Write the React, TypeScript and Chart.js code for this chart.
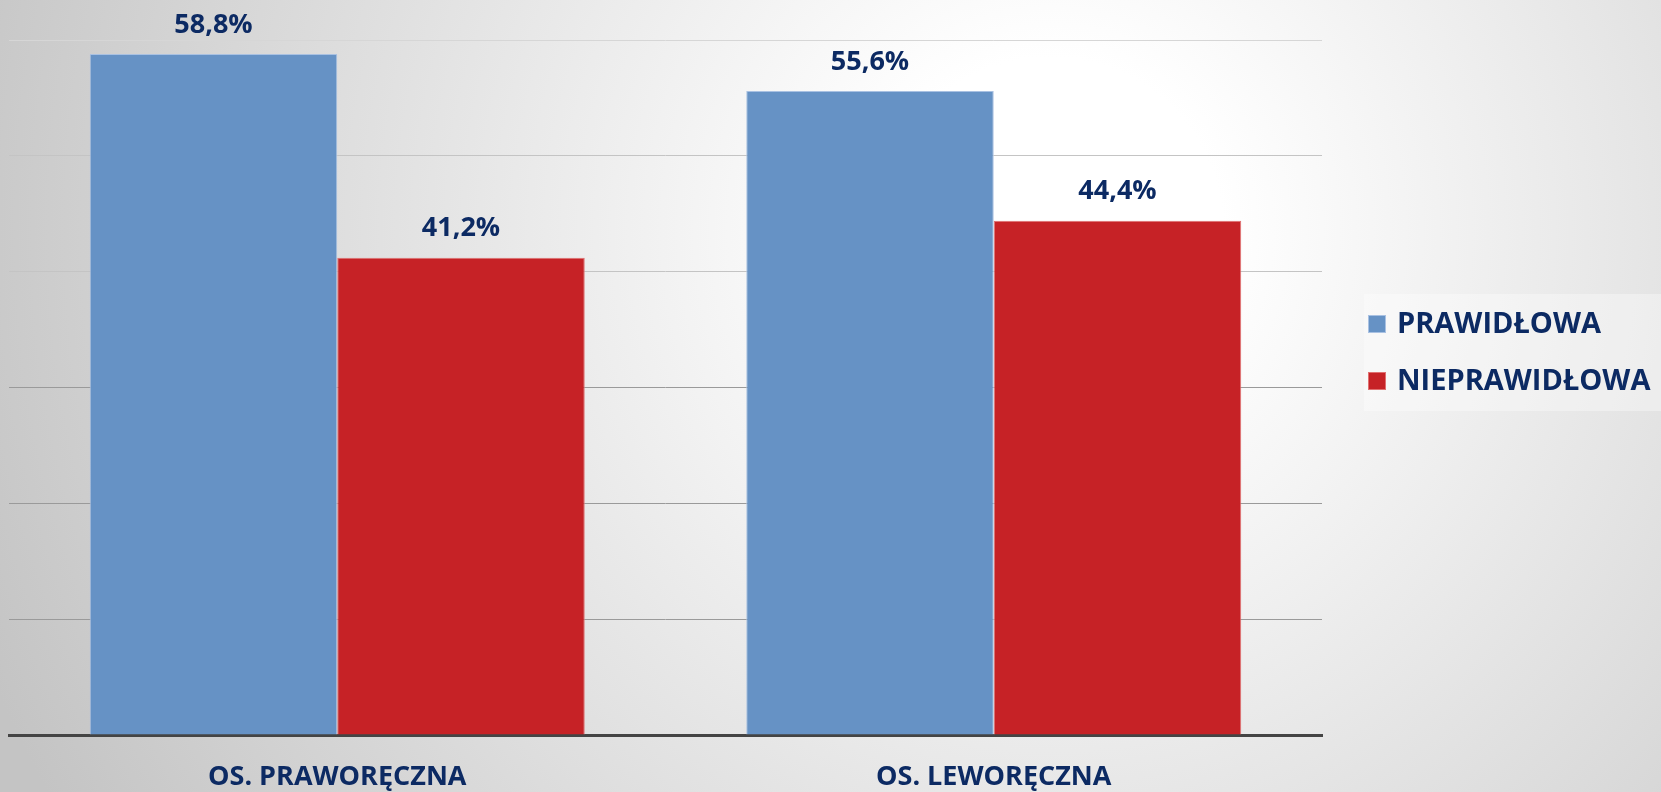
import React, { useEffect, useRef } from "react";
import { Chart, registerables } from "chart.js";

Chart.register(...registerables);

const categories = ["OS. PRAWORĘCZNA", "OS. LEWORĘCZNA"];
const seriesNames = ["PRAWIDŁOWA", "NIEPRAWIDŁOWA"];
const prawidlowa = [58.8, 55.6];
const nieprawidlowa = [41.2, 44.4];
const yTicks = [0, 10, 20, 30, 40, 50, 60];

const NAVY = "#0c2a63";
const BLUE = "#6692c5";
const RED = "#c62226";
const FONT = "'Open Sans', Lato, sans-serif";

const fmt = (v: number) => v.toFixed(1).replace(".", ",") + "%";

const bgPlugin = {
  id: "bg",
  beforeDraw(chart: any) {
    const { ctx, width, height } = chart;
    ctx.save();
    const g = ctx.createRadialGradient(1050, 230, 0, 1050, 230, 1150);
    g.addColorStop(0, "#ffffff");
    g.addColorStop(0.15, "#ffffff");
    g.addColorStop(1, "#c4c4c4");
    ctx.fillStyle = g;
    ctx.fillRect(0, 0, width, height);
    ctx.fillStyle = "rgba(255,255,255,0.35)";
    ctx.fillRect(1364, 294, width - 1364, 117);
    ctx.restore();
  },
};

const labelsPlugin = {
  id: "valueLabels",
  afterDatasetsDraw(chart: any) {
    const { ctx } = chart;
    ctx.save();
    ctx.font = `bold 27px ${FONT}`;
    ctx.fillStyle = NAVY;
    ctx.textAlign = "center";
    ctx.textBaseline = "middle";
    chart.data.datasets.forEach((ds: any, di: number) => {
      const meta = chart.getDatasetMeta(di);
      meta.data.forEach((el: any, i: number) => {
        ctx.fillText(fmt(ds.data[i]), el.x, el.y - 29);
      });
    });
    ctx.restore();
  },
};

const legendPlugin = {
  id: "customLegend",
  afterDraw(chart: any) {
    const { ctx } = chart;
    ctx.save();
    ctx.font = `bold 29px ${FONT}`;
    ctx.textBaseline = "middle";
    ctx.textAlign = "left";
    const ys = [324, 381];
    chart.data.datasets.forEach((ds: any, di: number) => {
      const y = ys[di];
      ctx.fillStyle = ds.backgroundColor;
      ctx.fillRect(1368, y - 9, 18, 18);
      ctx.strokeStyle = ds.borderColor;
      ctx.lineWidth = 1;
      ctx.strokeRect(1368.5, y - 8.5, 17, 17);
      ctx.fillStyle = NAVY;
      ctx.fillText(ds.label, 1397, y + 1);
    });
    ctx.restore();
  },
};

export default function App() {
  const ref = useRef<HTMLCanvasElement | null>(null);
  useEffect(() => {
    document.body.style.margin = "0";
    const chart = new Chart(ref.current!, {
      type: "bar",
      data: {
        labels: categories,
        datasets: [
          {
            label: seriesNames[0],
            data: prawidlowa,
            backgroundColor: BLUE,
            borderColor: "#a9c1e2",
            borderWidth: 1,
            categoryPercentage: 0.754,
            barPercentage: 1,
          },
          {
            label: seriesNames[1],
            data: nieprawidlowa,
            backgroundColor: RED,
            borderColor: "#e07070",
            borderWidth: 1,
            categoryPercentage: 0.754,
            barPercentage: 1,
          },
        ],
      },
      options: {
        animation: false,
        responsive: false,
        maintainAspectRatio: false,
        layout: { padding: { left: 9, right: 339, top: 40, bottom: 0 } },
        plugins: {
          legend: { display: false },
          tooltip: { enabled: false },
        },
        scales: {
          x: {
            grid: { display: false, drawTicks: false },
            border: { display: true, color: "#444444", width: 3 },
            afterFit: (axis: any) => {
              axis.height = 57;
            },
            ticks: {
              color: NAVY,
              padding: 26,
              font: { family: FONT, size: 27, weight: "bold" },
            },
          },
          y: {
            min: yTicks[0],
            max: yTicks[yTicks.length - 1],
            afterBuildTicks: (axis: any) => {
              axis.ticks = yTicks.map((v) => ({ value: v }));
            },
            ticks: { display: false },
            border: { display: false },
            grid: {
              drawTicks: false,
              lineWidth: 1,
              color: (c: any) => {
                const v = c.tick ? c.tick.value : 0;
                if (v >= 60) return "#d6d6d6";
                if (v >= 40) return "#c4c4c4";
                return "#9a9a9a";
              },
            },
          },
        },
      },
      plugins: [bgPlugin, labelsPlugin, legendPlugin],
    });
    return () => chart.destroy();
  }, []);
  return (
    <div style={{ width: 1661, height: 792, position: "relative" }}>
      <canvas ref={ref} width={1661} height={792} style={{ display: "block" }} />
    </div>
  );
}
